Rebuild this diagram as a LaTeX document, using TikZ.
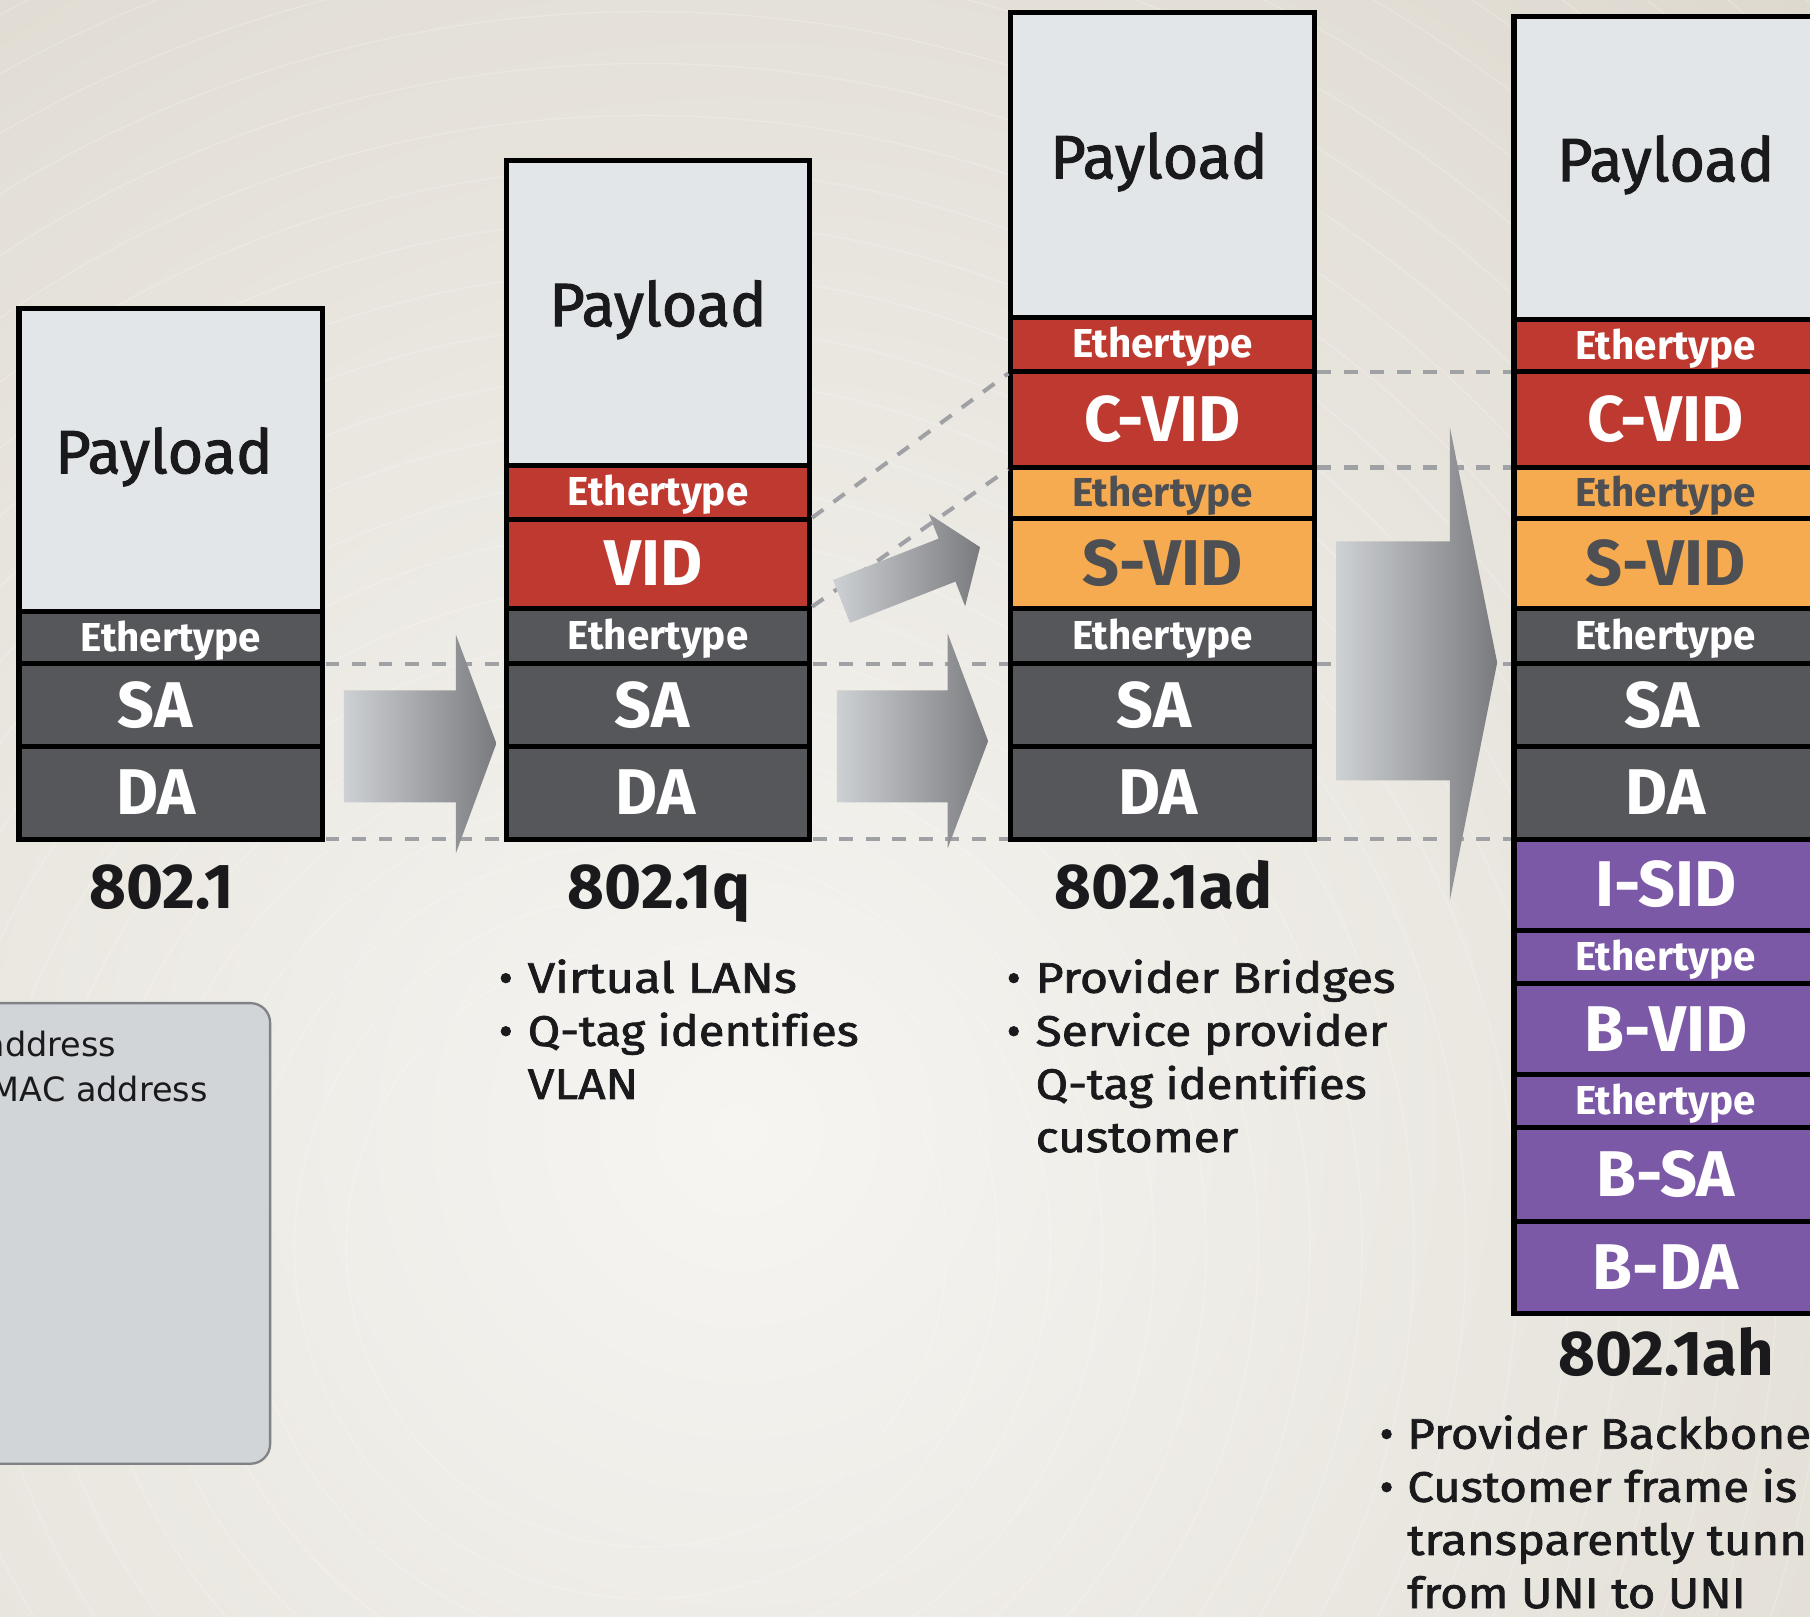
\documentclass[tikz,border=0pt]{standalone}
\usepackage{fontspec}
\setmainfont{Fira Sans}
\newfontfamily\legendfont{DejaVu Sans}
\newfontfamily\mediumfont{Fira Sans}[FakeBold=1.6,Ligatures=NoCommon]

% colours
\definecolor{bgout}{RGB}{219,214,203}
\definecolor{bgin}{RGB}{246,245,242}
\definecolor{payfill}{RGB}{227,230,232}
\definecolor{darkfld}{RGB}{86,87,91}
\definecolor{redfld}{RGB}{190,58,48}
\definecolor{orgfld}{RGB}{246,171,80}
\definecolor{purfld}{RGB}{124,89,167}
\definecolor{orgtxt}{RGB}{78,79,83}
\definecolor{dashgray}{RGB}{160,161,165}
\definecolor{arrowlight}{RGB}{206,209,212}
\definecolor{arrowdark}{RGB}{122,123,126}
\definecolor{notefill}{RGB}{210,213,216}
\definecolor{noteedge}{RGB}{128,130,133}
\definecolor{ink}{RGB}{26,26,28}

% fonts
\newcommand\bigf{\fontsize{56}{56}\selectfont\bfseries}
\newcommand\ethf{\fontsize{35}{35}\selectfont\bfseries}
\newcommand\payf{\mediumfont\fontsize{53}{53}\selectfont}
\newcommand\labf{\fontsize{55}{55}\selectfont\bfseries}
\newcommand\notef{\mediumfont\fontsize{37}{37}\selectfont}
\newcommand\legf{\legendfont\fontsize{29}{29}\selectfont}

% move a text sideways inside its field without changing the field
\newcommand\nudge[2]{\hspace*{#1}#2\hspace*{-#1}}
% wider setting for the note lines
\newcommand\wide[2]{\scalebox{#1}[1]{#2}}
\newcommand\bul{\makebox[25pt][l]{\textbullet}}

\tikzset{
  fld/.style={draw=black, line width=4.5pt, inner sep=0pt, outer sep=0pt,
    minimum width=263pt, text=white, font=\bigf, text height=38pt, text depth=0pt},
  eth/.style={fld, font=\ethf, text height=23pt},
  pay/.style={fld, fill=payfill, text=ink, font=\payf, text height=37pt, text depth=14pt,
    minimum height=264pt},
  ongray/.style={fill=darkfld},
  onred/.style={fill=redfld},
  onorange/.style={fill=orgfld, text=orgtxt},
  onpurple/.style={fill=purfld},
  conn/.style={draw=dashgray, line width=3.5pt, dash pattern=on 12pt off 11pt,
    shorten <=2.5pt, shorten >=2.5pt},
  arrowfill/.style={left color=arrowlight, right color=arrowdark},
  lab/.style={anchor=base, font=\labf, text=ink, inner sep=0pt},
  note/.style={anchor=base west, font=\notef, text=ink, inner sep=0pt},
  legtext/.style={anchor=base east, font=\legf, text=ink, inner sep=0pt},
}

\begin{document}
\begin{tikzpicture}[x=1pt,y=-1pt]
\useasboundingbox (0,0) rectangle (1568,1400);
\clip (0,0) rectangle (1568,1400);

% backdrop with faint concentric rings
\fill[bgout] (0,0) rectangle (1568,1400);
\shade[inner color=bgin, outer color=bgout] (640,980) circle (1500);
\foreach \r in {260,305,...,1700}
  \draw[white, opacity=0.2, line width=1.2pt] (560,1080) circle (\r);

% legend box at the left
\node[draw=noteedge, fill=notefill, rounded corners=17pt, line width=2pt,
      minimum width=254pt, minimum height=399pt, inner sep=0pt] (legend) at (107,1068.5) {};
\node[legtext] (legend-l1) at (101,915.6) {address};
\node[legtext] (legend-l2) at (180,954.6) {MAC address};

% 802.1 frame
\node[pay,minimum height=263pt] (a-pay) at (148,398.5) {\nudge{-6pt}{Payload}};
\node[eth,ongray,minimum height=45pt] (a-eth) at (148,552.5) {Ethertype};
\node[fld,ongray,minimum height=72pt] (a-sa) at (148,611) {\nudge{-14pt}{SA}};
\node[fld,ongray,minimum height=80pt] (a-da) at (148,687) {\nudge{-13pt}{DA}};

% 802.1q frame
\node[pay] (b-pay) at (570,271) {Payload};
\node[eth,onred,minimum height=47pt] (b-eth1) at (570,426.5) {Ethertype};
\node[fld,onred,minimum height=77pt] (b-vid) at (570,488.5) {\nudge{-4pt}{VID}};
\node[eth,ongray,minimum height=48pt] (b-eth) at (570,551) {Ethertype};
\node[fld,ongray,minimum height=72pt] (b-sa) at (570,611) {\nudge{-5pt}{SA}};
\node[fld,ongray,minimum height=80pt] (b-da) at (570,687) {\nudge{-2pt}{DA}};

% 802.1ad frame
\node[pay] (c-pay) at (1007,143) {\nudge{-3pt}{Payload}};
\node[eth,onred,minimum height=47pt] (c-eth1) at (1007,298.5) {Ethertype};
\node[fld,onred,minimum height=83pt] (c-cvid) at (1007,363.5) {C-VID};
\node[eth,onorange,minimum height=44pt] (c-eth2) at (1007,427) {Ethertype};
\node[fld,onorange,minimum height=78pt] (c-svid) at (1007,488) {S-VID};
\node[eth,ongray,minimum height=48pt] (c-eth) at (1007,551) {Ethertype};
\node[fld,ongray,minimum height=72pt] (c-sa) at (1007,611) {\nudge{-7pt}{SA}};
\node[fld,ongray,minimum height=80pt] (c-da) at (1007,687) {\nudge{-4pt}{DA}};

% 802.1ah frame
\node[pay,minimum height=263pt] (d-pay) at (1443,145.5) {Payload};
\node[eth,onred,minimum height=45pt] (d-eth1) at (1443,299.5) {Ethertype};
\node[fld,onred,minimum height=83pt] (d-cvid) at (1443,363.5) {C-VID};
\node[eth,onorange,minimum height=44pt] (d-eth2) at (1443,427) {Ethertype};
\node[fld,onorange,minimum height=78pt] (d-svid) at (1443,488) {S-VID};
\node[eth,ongray,minimum height=48pt] (d-eth) at (1443,551) {Ethertype};
\node[fld,ongray,minimum height=72pt] (d-sa) at (1443,611) {\nudge{-3pt}{SA}};
\node[fld,ongray,minimum height=80pt] (d-da) at (1443,687) {DA};
\node[fld,onpurple,minimum height=79pt] (d-isid) at (1443,766.5) {I-SID};
\node[eth,onpurple,minimum height=46pt] (d-eth3) at (1443,829) {Ethertype};
\node[fld,onpurple,minimum height=79pt] (d-bvid) at (1443,891.5) {B-VID};
\node[eth,onpurple,minimum height=46pt] (d-eth4) at (1443,954) {Ethertype};
\node[fld,onpurple,minimum height=81pt] (d-bsa) at (1443,1017.5) {B-SA};
\node[fld,onpurple,minimum height=80pt] (d-bda) at (1443,1098) {B-DA};

% dashed guides between matching fields
\draw[conn] (a-sa.north east) -- (b-sa.north west);
\draw[conn] (a-da.south east) -- (b-da.south west);
\draw[conn] (b-sa.north east) -- (c-sa.north west);
\draw[conn] (b-da.south east) -- (c-da.south west);
\draw[conn] (c-sa.north east) -- (d-sa.north west);
\draw[conn] (c-da.south east) -- (d-da.south west);
\draw[conn] (b-vid.north east) -- (c-cvid.north west);
\draw[conn] (b-vid.south east) -- (c-cvid.south west);
\draw[conn] (c-cvid.north east) -- (d-cvid.north west);
\draw[conn] (c-cvid.south east) -- (d-cvid.south west);

% block arrows
\shade[arrowfill] (298,598) -- (395,598) -- (395,550) -- (430,644) -- (395,739) -- (395,695) -- (298,695) -- cycle;
\shade[arrowfill] (725,598) -- (821,598) -- (821,549) -- (856,642) -- (821,735) -- (821,695) -- (725,695) -- cycle;
\shade[arrowfill] (721.7,502.4) -- (813.1,466.6) -- (804.7,445.2) -- (849,474) -- (836.1,525.2) -- (827.7,503.8) -- (736.3,539.6) -- cycle;
\shade[arrowfill] (1158,469) -- (1256,469) -- (1256,370) -- (1297,574) -- (1256,780) -- (1256,676) -- (1158,676) -- cycle;

% standard names
\node[lab] (a-lab) at (140,787) {802.1};
\node[lab] (b-lab) at (571,787) {802.1q};
\node[lab] (c-lab) at (1008,787) {802.1ad};
\node[lab] (d-lab) at (1443.5,1192) {802.1ah};

% notes under each frame
\node[note] (b-n1) at (432,860) {\bul\wide{1.15}{Virtual LANs}};
\node[note] (b-n2) at (432,906) {\bul\wide{1.10}{Q-tag identifies}};
\node[note] (b-n3) at (457,952) {\wide{1.12}{VLAN}};
\node[note] (c-n1) at (872,860) {\bul\wide{1.13}{Provider Bridges}};
\node[note] (c-n2) at (872,906) {\bul\wide{1.12}{Service provider}};
\node[note] (c-n3) at (897,952) {\wide{1.10}{Q-tag identifies}};
\node[note] (c-n4) at (897,998) {\wide{1.12}{customer}};
\node[note] (d-n1) at (1195,1255) {\makebox[24pt][l]{\textbullet}\wide{1.11}{Provider Backbone}};
\node[note] (d-n2) at (1195,1301) {\makebox[24pt][l]{\textbullet}\wide{1.11}{Customer frame is}};
\node[note] (d-n3) at (1219,1347) {\wide{1.11}{transparently tunn}};
\node[note] (d-n4) at (1219,1393) {\wide{1.11}{from UNI to UNI}};
\end{tikzpicture}
\end{document}
